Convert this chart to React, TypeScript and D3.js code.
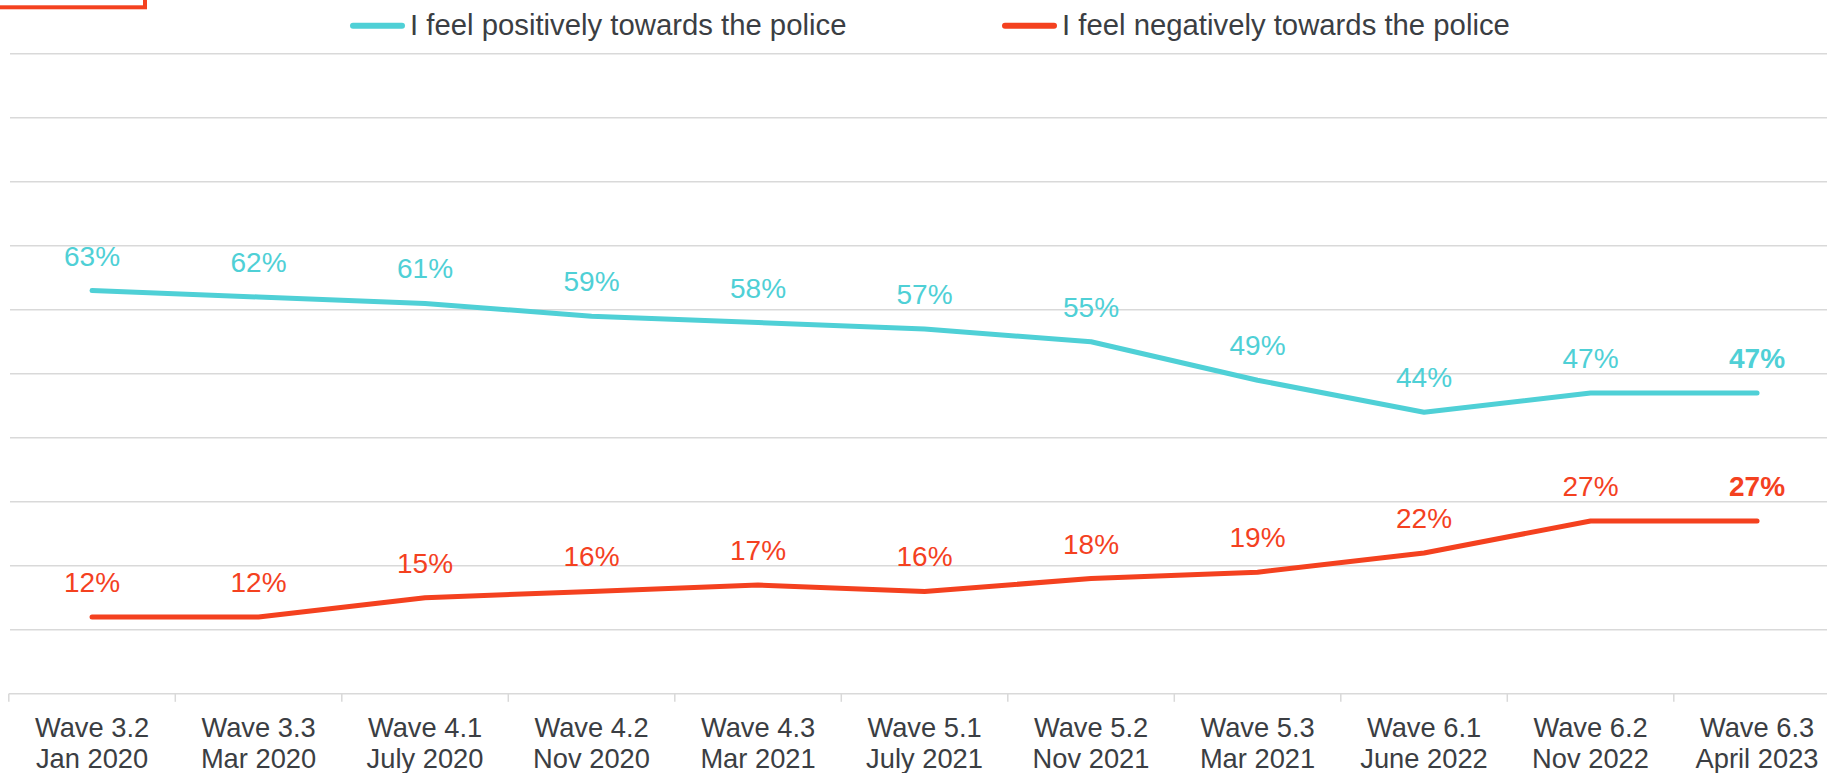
import React from "react";
import * as d3 from "d3";

const waves = ["Wave 3.2", "Wave 3.3", "Wave 4.1", "Wave 4.2", "Wave 4.3", "Wave 5.1", "Wave 5.2", "Wave 5.3", "Wave 6.1", "Wave 6.2", "Wave 6.3"];
const dates = ["Jan 2020", "Mar 2020", "July 2020", "Nov 2020", "Mar 2021", "July 2021", "Nov 2021", "Mar 2021", "June 2022", "Nov 2022", "April 2023"];
const positive = [63, 62, 61, 59, 58, 57, 55, 49, 44, 47, 47];
const negative = [12, 12, 15, 16, 17, 16, 18, 19, 22, 27, 27];
const gridTicks = [10, 20, 30, 40, 50, 60, 70, 80, 90, 100];
const seriesNames = ["I feel positively towards the police", "I feel negatively towards the police"];

const W = 1827;
const H = 773;
const BLUE = "#4fd0d6";
const RED = "#f4411f";
const GRID = "#d9d9d9";
const TEXT = "#3b3e43";
const FONT = "'Liberation Sans', Arial, sans-serif";

export default function App() {
  const x = d3.scaleBand<string>().domain(waves).range([8.8, 8.8 + 11 * 166.5]).padding(0);
  const y = d3.scaleLinear().domain([0, 100]).range([693.8, 53.8]);
  const cx = (i: number) => (x(waves[i]) as number) + x.bandwidth() / 2;
  const line = d3
    .line<number>()
    .x((_, i) => cx(i))
    .y((d) => y(d));

  const series = [
    { name: seriesNames[0], values: positive, color: BLUE, lx: 350 },
    { name: seriesNames[1], values: negative, color: RED, lx: 1002 },
  ];

  return (
    <svg
      width={W}
      height={H}
      style={{ position: "absolute", left: 0, top: 0, background: "#fff" }}
      fontFamily={FONT}
    >
      {/* cropped red outline box top-left */}
      <rect x={-20} y={-60} width={165} height={67.3} fill="none" stroke={RED} strokeWidth={4} />

      {/* gridlines */}
      {gridTicks.map((t) => (
        <line key={t} x1={10} x2={W} y1={y(t)} y2={y(t)} stroke={GRID} strokeWidth={1.5} />
      ))}
      {/* axis */}
      <line x1={8.8} x2={W} y1={y(0)} y2={y(0)} stroke={GRID} strokeWidth={1.5} />
      {waves.map((w) => (
        <line
          key={"t" + w}
          x1={x(w) as number}
          x2={x(w) as number}
          y1={y(0)}
          y2={y(0) + 8}
          stroke={GRID}
          strokeWidth={1.5}
        />
      ))}
      {waves.map((w, i) => (
        <text key={"l" + w} x={cx(i)} textAnchor="middle" fontSize={27.3} fill={TEXT}>
          <tspan x={cx(i)} y={736.7}>{w}</tspan>
          <tspan x={cx(i)} y={768.3}>{dates[i]}</tspan>
        </text>
      ))}

      {/* lines */}
      {series.map((s) => (
        <path
          key={s.name}
          d={line(s.values) as string}
          fill="none"
          stroke={s.color}
          strokeWidth={5}
          strokeLinecap="round"
          strokeLinejoin="round"
        />
      ))}

      {/* data labels */}
      {series.map((s) =>
        s.values.map((v, i) => (
          <text
            key={s.name + i}
            x={cx(i)}
            y={y(v) - 25}
            textAnchor="middle"
            fontSize={28}
            fill={s.color}
            fontWeight={i === s.values.length - 1 ? "bold" : "normal"}
          >
            {v}%
          </text>
        ))
      )}

      {/* legend */}
      {series.map((s) => (
        <g key={"lg" + s.name}>
          <line x1={s.lx + 3} x2={s.lx + 52} y1={25.7} y2={25.7} stroke={s.color} strokeWidth={6} strokeLinecap="round" />
          <text x={s.lx + 60} y={35} fontSize={29.3} fill={TEXT}>
            {s.name}
          </text>
        </g>
      ))}
    </svg>
  );
}
